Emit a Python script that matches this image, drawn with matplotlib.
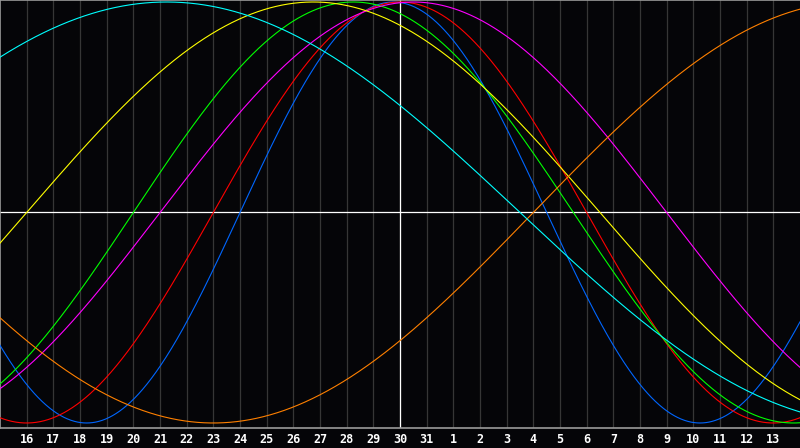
import numpy as np
import matplotlib
matplotlib.use('Agg')
import matplotlib.pyplot as plt

# Biorhythm data: days since birth on the highlighted day and the cycle lengths
days_since_birth_today = 19579
today_index = 15  # position of "30" on the axis (day 0 = the 15th)
day_labels = [16, 17, 18, 19, 20, 21, 22, 23, 24, 25, 26, 27, 28, 29, 30, 31,
              1, 2, 3, 4, 5, 6, 7, 8, 9, 10, 11, 12, 13]
periods = [23, 28, 33, 38, 43, 48, 53]
cycle_colors = ['#0066ff', '#ff0000', '#00ff00', '#ff00ff', '#ffff00', '#ff8000', '#00ffff']

n_days = len(day_labels) + 1

fig = plt.figure(figsize=(8, 4.48), dpi=100, facecolor='#050508')
ax = fig.add_axes([0, 20 / 448, 1, 428 / 448])
ax.set_facecolor('#050508')

# Day grid
for i in range(1, n_days):
    ax.axvline(i, color='#363636', lw=0.9, zorder=1)

# Today marker and zero line
ax.axvline(today_index, color='white', lw=0.9, zorder=2)
ax.axhline(0, color='white', lw=0.9, zorder=2)

# Cycles
t = np.linspace(0, n_days, 1601)
d = days_since_birth_today - today_index + t
for period, color in zip(periods, cycle_colors):
    ax.plot(t, np.sin(2 * np.pi * d / period), color=color, lw=0.8, zorder=3)

ax.set_xlim(0, n_days)
ax.set_ylim(-1.0238, 1.0095)
ax.set_xticks([])
ax.set_yticks([])
for side in ['right']:
    ax.spines[side].set_visible(False)
for side in ['top', 'bottom', 'left']:
    ax.spines[side].set_color('#9a9a9a')
    ax.spines[side].set_linewidth(1.2)

# Day labels under the plot
for i, lab in enumerate(day_labels, start=1):
    fig.text(i / n_days, 9 / 448, str(lab), color='white', fontsize=8.5,
             fontweight='bold', family='DejaVu Sans Mono', ha='center', va='center')

fig.savefig('out.png', dpi=100, facecolor=fig.get_facecolor())
